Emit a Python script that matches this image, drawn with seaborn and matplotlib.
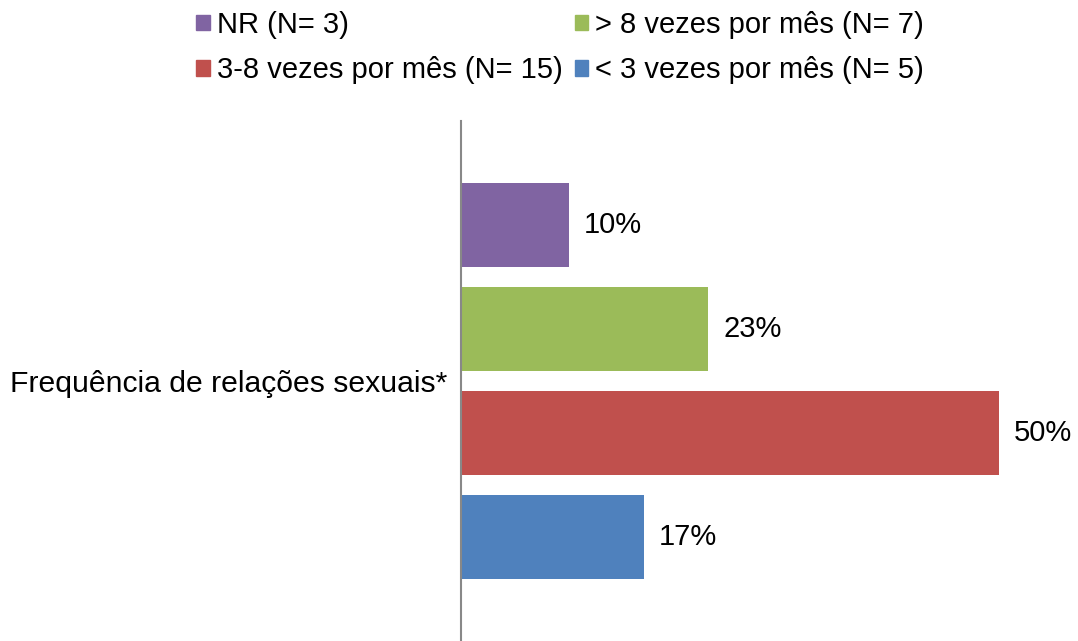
import matplotlib
matplotlib.use('Agg')
import matplotlib.pyplot as plt
import pandas as pd
import seaborn as sns
from matplotlib.patches import Patch

# --- data ---
category = "Frequência de relações sexuais*"
series = ["NR (N= 3)", "> 8 vezes por mês (N= 7)", "3-8 vezes por mês (N= 15)", "< 3 vezes por mês (N= 5)"]
values = [10, 23, 50, 17]
colors = ["#8064A2", "#9BBB59", "#C0504D", "#4F81BD"]

df = pd.DataFrame({"cat": [category] * len(series), "serie": series, "pct": values})

sns.set_theme(style="white")
plt.rcParams['font.family'] = ['Liberation Sans', 'DejaVu Sans']
plt.rcParams['text.color'] = 'black'

W, H = 1078, 641
FS = 21
fig = plt.figure(figsize=(W / 100, H / 100), dpi=100)
ax = fig.add_axes([461 / W, 0, (999 - 461) / W, (641 - 121) / H])

sns.barplot(data=df, x="pct", y="cat", hue="serie", hue_order=series,
            palette=colors, saturation=1, orient="h", width=0.8, gap=0.19,
            linewidth=0, ax=ax, legend=False)

ax.set_xlim(0, 50)
ax.set_xlabel("")
ax.set_ylabel("")
ax.set_xticks([])
ax.tick_params(axis="y", length=0, pad=10, labelsize=21.7, labelcolor="black")
for side in ["top", "right", "bottom"]:
    ax.spines[side].set_visible(False)
ax.spines["left"].set_color("#888888")
ax.spines["left"].set_linewidth(1.5)

for cont in ax.containers:
    ax.bar_label(cont, labels=[f"{v:.0f}%" for v in cont.datavalues],
                 padding=11, fontsize=FS, color="black", clip_on=False)

# legend laid out row-wise: NR, >8 / 3-8, <3
order = [0, 2, 1, 3]
handles = [Patch(color=colors[i]) for i in order]
labels = [series[i] for i in order]
fig.legend(handles, labels, loc="upper left", bbox_to_anchor=(176 / W, 1.015),
           ncol=2, frameon=False, fontsize=FS, handlelength=0.45, handleheight=0.45,
           handletextpad=0.24, columnspacing=0.42, labelspacing=0.6, borderpad=0.2)

fig.savefig("out.png", dpi=100)
